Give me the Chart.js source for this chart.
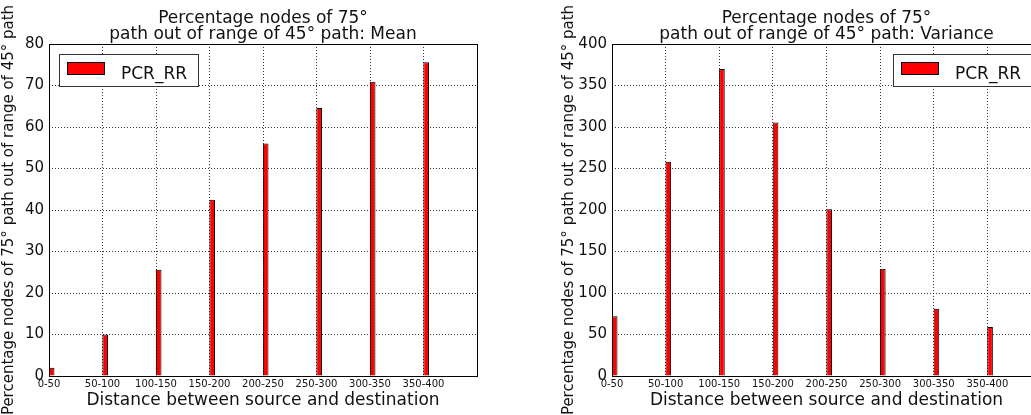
<!DOCTYPE html>
<html>
<head>
<meta charset="utf-8">
<title>PCR_RR</title>
<script src="https://cdn.jsdelivr.net/npm/chart.js@4/dist/chart.umd.min.js"></script>
<style>
  html, body { margin: 0; padding: 0; background: #fff; overflow: hidden; }
  #wrap { position: relative; width: 1031px; height: 415px; overflow: hidden; }
  canvas { position: absolute; top: 0; }
  #meanChart { left: 0; }
  #varChart { left: 560px; }
</style>
</head>
<body>
<div id="wrap">
  <canvas id="meanChart" width="515" height="415"></canvas>
  <canvas id="varChart" width="500" height="415"></canvas>
</div>
<script>
// distance buckets (x axis)
const categories = ["0-50", "50-100", "100-150", "150-200", "200-250", "250-300", "300-350", "350-400"];
const seriesName = "PCR_RR";

// values
const meanValues = [2, 10, 25.6, 42.5, 56, 64.6, 70.9, 75.6];
const varianceValues = [72, 258, 370, 305.5, 201, 129.3, 81, 59];

const meanTicks = { max: 80, step: 10 };
const varTicks = { max: 400, step: 50 };

const xTitle = "Distance between source and destination";
const yTitle = "Percentage nodes of 75\u00b0 path out of range of 45\u00b0 path";
const meanTitle = ["Percentage nodes of 75\u00b0", "path out of range of 45\u00b0 path: Mean"];
const varTitle = ["Percentage nodes of 75\u00b0", "path out of range of 45\u00b0 path: Variance"];

Chart.defaults.font.family = "'DejaVu Sans', 'Bitstream Vera Sans', sans-serif";
Chart.defaults.color = "#000";

const FONT = "'DejaVu Sans', sans-serif";

// frame, two-line title and boxed legend (matplotlib look)
const mplDecor = {
  id: "mplDecor",
  afterDraw(chart, args, o) {
    const { ctx, chartArea: a } = chart;
    ctx.save();
    ctx.strokeStyle = "#000";
    ctx.lineWidth = 1;
    ctx.strokeRect(Math.round(a.left) + 0.5, Math.round(a.top) + 0.5,
      Math.round(a.right - a.left), Math.round(a.bottom - a.top));

    ctx.fillStyle = "#111";
    ctx.font = "17px " + FONT;
    ctx.textAlign = "center";
    ctx.textBaseline = "alphabetic";
    const cx = (a.left + a.right) / 2;
    ctx.fillText(o.title[0], cx, 22.5);
    ctx.fillText(o.title[1], cx, 39);

    // legend box
    const w = 139, h = 32;
    const bx = o.legendRight ? Math.round(a.right - 9.5 - w) : Math.round(a.left + 9.5);
    const by = Math.round(a.top + 10);
    ctx.fillStyle = "#fff";
    ctx.fillRect(bx, by, w, h);
    ctx.strokeStyle = "#333";
    ctx.strokeRect(bx + 0.5, by + 0.5, w, h);
    ctx.fillStyle = "#ff0000";
    ctx.fillRect(bx + 8, by + 8, 38, 13);
    ctx.strokeStyle = "#000";
    ctx.strokeRect(bx + 8.5, by + 8.5, 37, 12);
    ctx.fillStyle = "#111";
    ctx.textAlign = "left";
    ctx.fillText(seriesName, bx + 62, by + 24.5);
    ctx.restore();
  }
};

function makeChart(id, values, yt, title, legendRight, yWidth, padRight) {
  const points = values.map((v, i) => ({ x: i + 0.05, y: v }));
  return new Chart(document.getElementById(id), {
    type: "bar",
    data: {
      datasets: [{
        label: seriesName,
        data: points,
        backgroundColor: "#ff0000",
        borderColor: "#000",
        borderWidth: 1,
        borderSkipped: "bottom",
        barPercentage: 0.105,
        categoryPercentage: 1.0
      }]
    },
    plugins: [mplDecor],
    options: {
      responsive: false,
      animation: false,
      layout: { padding: { top: 44, right: padRight, left: 0, bottom: 0 } },
      scales: {
        x: {
          type: "linear",
          min: 0,
          max: 8,
          offset: false,
          grid: { color: "rgba(0,0,0,0.8)", lineWidth: 1, drawTicks: false, offset: false },
          border: { display: false, dash: [1, 2] },
          ticks: {
            stepSize: 1,
            autoSkip: false,
            maxRotation: 0,
            padding: 2,
            font: { size: 10 },
            color: "#111",
            callback: v => (Number.isInteger(v) && v < categories.length ? categories[v] : "")
          },
          title: { display: true, text: xTitle, font: { size: 17 }, color: "#111", padding: { top: 0, bottom: 4 } },
          afterFit: s => { s.height = 39; }
        },
        y: {
          min: 0,
          max: yt.max,
          grid: { color: "rgba(0,0,0,0.8)", lineWidth: 1, drawTicks: false },
          border: { display: false, dash: [1, 2] },
          ticks: { stepSize: yt.step, padding: 5, font: { size: 15 }, color: "#111" },
          title: { display: true, text: yTitle, font: { size: 15 }, color: "#111", padding: { top: 0, bottom: 0 } },
          afterFit: s => { s.width = yWidth; }
        }
      },
      plugins: {
        legend: { display: false },
        tooltip: { enabled: false },
        mplDecor: { title, legendRight }
      }
    }
  });
}

makeChart("meanChart", meanValues, meanTicks, meanTitle, false, 49, 38);
makeChart("varChart", varianceValues, varTicks, varTitle, true, 52, 19);
</script>
</body>
</html>
